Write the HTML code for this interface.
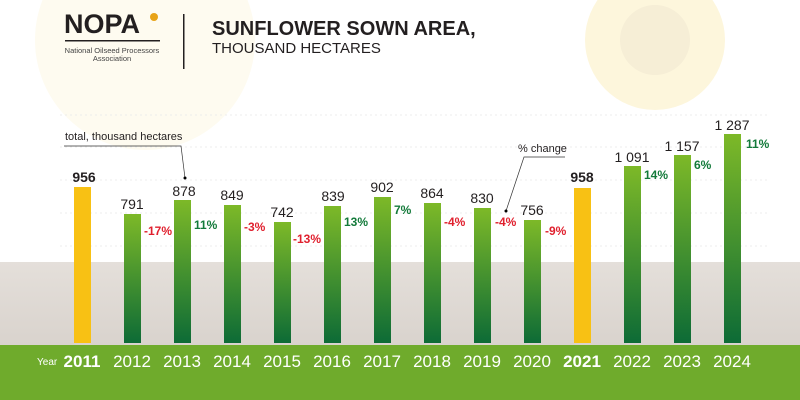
<!DOCTYPE html>
<html><head><meta charset="utf-8"><style>
body{margin:0;width:800px;height:400px;overflow:hidden;background:#fff}
svg{display:block;font-family:"Liberation Sans",sans-serif}
</style></head><body>
<svg width="800" height="400" viewBox="0 0 800 400">
<defs>
<linearGradient id="g" x1="0" y1="0" x2="0" y2="1"><stop offset="0" stop-color="#7db928"/><stop offset="1" stop-color="#0d6b36"/></linearGradient>
<linearGradient id="soil" x1="0" y1="0" x2="0" y2="1"><stop offset="0" stop-color="#e4dfda"/><stop offset="1" stop-color="#d9d3cd"/></linearGradient>
</defs>
<rect width="800" height="400" fill="#fff"/>
<circle cx="145" cy="40" r="110" fill="#fefbf0"/>
<circle cx="655" cy="40" r="70" fill="#fdf6dc"/>
<circle cx="655" cy="40" r="35" fill="#f6eed6"/>
<rect x="0" y="262" width="800" height="83" fill="url(#soil)"/>
<rect x="0" y="345" width="800" height="55" fill="#6fab2c"/>
<g stroke="#ececec" stroke-dasharray="2,3"><line x1="60" y1="115" x2="770" y2="115"/><line x1="60" y1="147" x2="770" y2="147"/><line x1="60" y1="180" x2="770" y2="180"/><line x1="60" y1="213" x2="770" y2="213"/><line x1="60" y1="246" x2="770" y2="246"/></g>
<text x="64" y="33" font-size="27" font-weight="bold" fill="#231f20">NOPA</text>
<circle cx="154" cy="17" r="4" fill="#e8a317"/>
<rect x="65" y="40" width="95" height="1.5" fill="#231f20"/>
<text x="112" y="53" font-size="7.5" fill="#444" text-anchor="middle">National Oilseed Processors</text>
<text x="112" y="61" font-size="7.5" fill="#444" text-anchor="middle">Association</text>
<rect x="183" y="14" width="1.5" height="55" fill="#231f20"/>
<text x="212" y="35" font-size="20" font-weight="bold" fill="#231f20">SUNFLOWER SOWN AREA,</text>
<text x="212" y="53" font-size="15" fill="#231f20">THOUSAND HECTARES</text>
<text x="65" y="140" font-size="11" fill="#231f20">total, thousand hectares</text>
<polyline points="64,146 181,146 185,178" fill="none" stroke="#333" stroke-width="0.7"/><circle cx="185" cy="178" r="1.5" fill="#000"/>
<text x="518" y="152" font-size="11" fill="#231f20">% change</text>
<polyline points="565,157 524,157 506,211" fill="none" stroke="#333" stroke-width="0.7"/><circle cx="506" cy="211" r="1.5" fill="#000"/>
<g>
<rect x="74" y="187" width="17" height="156" fill="#f8c114"/>
<rect x="124" y="214" width="17" height="129" fill="url(#g)"/>
<rect x="174" y="200" width="17" height="143" fill="url(#g)"/>
<rect x="224" y="205" width="17" height="138" fill="url(#g)"/>
<rect x="274" y="222" width="17" height="121" fill="url(#g)"/>
<rect x="324" y="206" width="17" height="137" fill="url(#g)"/>
<rect x="374" y="197" width="17" height="146" fill="url(#g)"/>
<rect x="424" y="203" width="17" height="140" fill="url(#g)"/>
<rect x="474" y="208" width="17" height="135" fill="url(#g)"/>
<rect x="524" y="220" width="17" height="123" fill="url(#g)"/>
<rect x="574" y="188" width="17" height="155" fill="#f8c114"/>
<rect x="624" y="166" width="17" height="177" fill="url(#g)"/>
<rect x="674" y="155" width="17" height="188" fill="url(#g)"/>
<rect x="724" y="134" width="17" height="209" fill="url(#g)"/>
</g>
<g font-size="14" fill="#231f20" text-anchor="middle">
<text x="84" y="182" font-weight="bold">956</text>
<text x="132" y="209">791</text>
<text x="184" y="196">878</text>
<text x="232" y="200">849</text>
<text x="282" y="217">742</text>
<text x="333" y="201">839</text>
<text x="382" y="192">902</text>
<text x="432" y="198">864</text>
<text x="482" y="203">830</text>
<text x="532" y="215">756</text>
<text x="582" y="182" font-weight="bold">958</text>
<text x="632" y="162">1 091</text>
<text x="682" y="151">1 157</text>
<text x="732" y="130">1 287</text>
</g>
<g font-size="12" font-weight="bold">
<text x="144" y="235" fill="#e0202e">-17%</text>
<text x="194" y="229" fill="#137a3a">11%</text>
<text x="244" y="231" fill="#e0202e">-3%</text>
<text x="293" y="243" fill="#e0202e">-13%</text>
<text x="344" y="226" fill="#137a3a">13%</text>
<text x="394" y="214" fill="#137a3a">7%</text>
<text x="444" y="226" fill="#e0202e">-4%</text>
<text x="495" y="226" fill="#e0202e">-4%</text>
<text x="545" y="235" fill="#e0202e">-9%</text>
<text x="644" y="179" fill="#137a3a">14%</text>
<text x="694" y="169" fill="#137a3a">6%</text>
<text x="746" y="148" fill="#137a3a">11%</text>
</g>
<text x="37" y="365" font-size="10" fill="#fff">Year</text>
<g font-size="17" fill="#fff" text-anchor="middle">
<text x="82" y="367" font-weight="bold">2011</text>
<text x="132" y="367">2012</text><text x="182" y="367">2013</text><text x="232" y="367">2014</text>
<text x="282" y="367">2015</text><text x="332" y="367">2016</text><text x="382" y="367">2017</text>
<text x="432" y="367">2018</text><text x="482" y="367">2019</text><text x="532" y="367">2020</text>
<text x="582" y="367" font-weight="bold">2021</text>
<text x="632" y="367">2022</text><text x="682" y="367">2023</text><text x="732" y="367">2024</text>
</g>
</svg>
</body></html>
